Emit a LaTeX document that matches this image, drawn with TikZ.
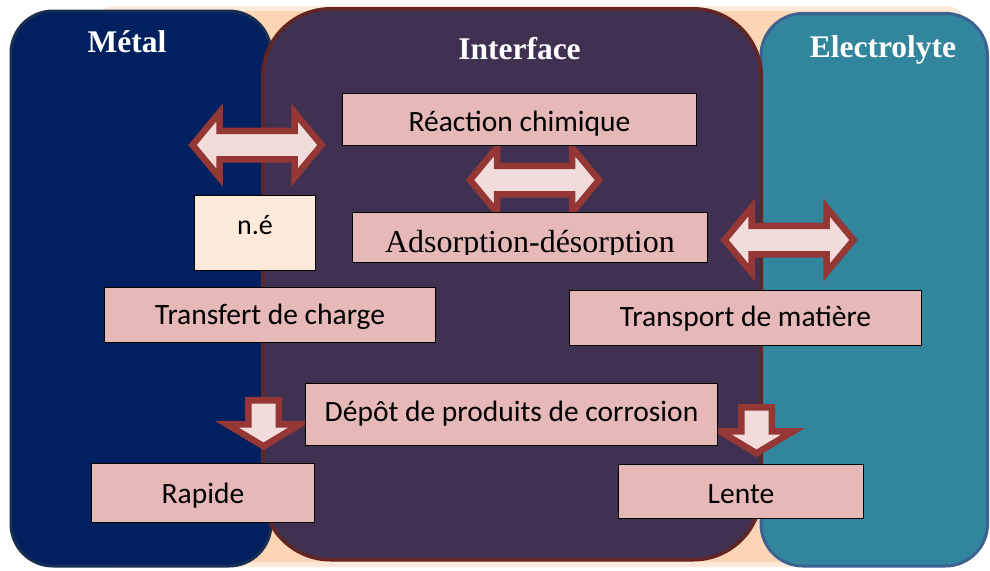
\documentclass[tikz,border=0pt]{standalone}
\usepackage{fontspec}
\setmainfont{Carlito}
\newfontfamily\serifface{Liberation Serif}
\definecolor{metalfill}{RGB}{0,32,96}
\definecolor{metaledge}{RGB}{24,46,82}
\definecolor{ifacefill}{RGB}{64,49,82}
\definecolor{ifaceedge}{RGB}{99,37,35}
\definecolor{elecfill}{RGB}{49,133,156}
\definecolor{elecedge}{RGB}{60,98,146}
\definecolor{peach}{RGB}{252,213,181}
\definecolor{peachlight}{RGB}{253,233,217}
\definecolor{boxpink}{RGB}{230,185,184}
\definecolor{boxcream}{RGB}{253,234,218}
\definecolor{arrowfill}{RGB}{242,220,219}
\definecolor{arrowred}{RGB}{149,55,53}
\tikzset{
  panel/.style={line width=3pt, rounded corners=#1},
  title/.style={font=\serifface\bfseries\fontsize{31.5}{36}\selectfont, text=white, anchor=base, inner sep=0pt},
  tbox/.style={draw=black, line width=1.5pt, fill=boxpink, inner sep=0pt,
    font=\fontsize{29.5}{34}\selectfont, text height=#1, text depth=0pt},
  arrowshape/.style={draw=arrowred, fill=arrowfill, line width=6.5pt, line join=miter, miter limit=10},
  dblarrow/.pic={
    \path[arrowshape] (-64.5,0) -- (-37.5,-32.5) -- (-37.5,-14.25) -- (37.5,-14.25)
      -- (37.5,-32.5) -- (64.5,0) -- (37.5,32.5) -- (37.5,14.25) -- (-37.5,14.25)
      -- (-37.5,32.5) -- cycle;
  },
  downarrow/.pic={
    \path[arrowshape] (-15.25,0) -- (15.25,0) -- (15.25,24) -- (36.75,24) -- (0,46)
      -- (-36.75,24) -- (-15.25,24) -- cycle;
  }
}
\begin{document}
\begin{tikzpicture}[x=1pt,y=-1pt]
  \useasboundingbox (0,0) rectangle (990,570);
  \fill[white] (0,0) rectangle (990,570);

  % backdrop behind the three panels
  \fill[peachlight, rounded corners=20] (95,6) rectangle (966,567);
  \fill[peach, rounded corners=20] (95,11) rectangle (966,562);

  % panels: metal, electrolyte, then the interface on top
  \draw[panel=42, draw=metaledge, fill=metalfill] (11,11) rectangle (271,566);
  \draw[panel=42, draw=elecedge, fill=elecfill] (761,13.5) rectangle (987.5,566);
  \draw[panel=68, draw=ifaceedge, fill=ifacefill, line width=3.5pt] (262.75,8.75) rectangle (761.25,559.75);

  % panel titles
  \node[title] (metal) at (127,52) {Métal};
  \node[title] (iface) at (519.5,59) {Interface};
  \node[title] (elec) at (883,57) {Electrolyte};

  % exchange arrows
  \pic at (257,145) {dblarrow};
  \pic at (534.5,180) {dblarrow};
  \pic at (789,240) {dblarrow};
  \pic at (263.5,400.25) {downarrow};
  \pic at (756.5,407.25) {downarrow};

  % process boxes
  \node[tbox=24.4pt, minimum width=354, minimum height=52] (react) at (519.5,119.5) {Réaction chimique};
  \node[tbox=2pt, fill=boxcream, font=\fontsize{28}{32}\selectfont, minimum width=121, minimum height=75] (ne) at (255,233) {n.é};
  \node[tbox=1pt, minimum width=355, minimum height=50] (ads) at (530,237.5) {};
  \begin{scope}
    \clip (353,213) rectangle (707,254);
    \node[font=\serifface\fontsize{32}{36}\selectfont, anchor=base, inner sep=0pt] (adstext) at (530,252.7) {Adsorption-désorption};
  \end{scope}
  \node[tbox=18.6pt, minimum width=331, minimum height=55] (transfert) at (270,315) {Transfert de charge};
  \node[tbox=17.4pt, minimum width=352, minimum height=55] (transport) at (745.5,318) {Transport de matière};
  \node[tbox=14.4pt, minimum width=412, minimum height=62] (depot) at (511.5,414.5) {Dépôt de produits de corrosion};
  \node[tbox=20.6pt, minimum width=223, minimum height=59] (rapide) at (203,493) {Rapide};
  \node[tbox=23.6pt, minimum width=245, minimum height=54] (lente) at (741,491.5) {Lente};
\end{tikzpicture}
\end{document}
